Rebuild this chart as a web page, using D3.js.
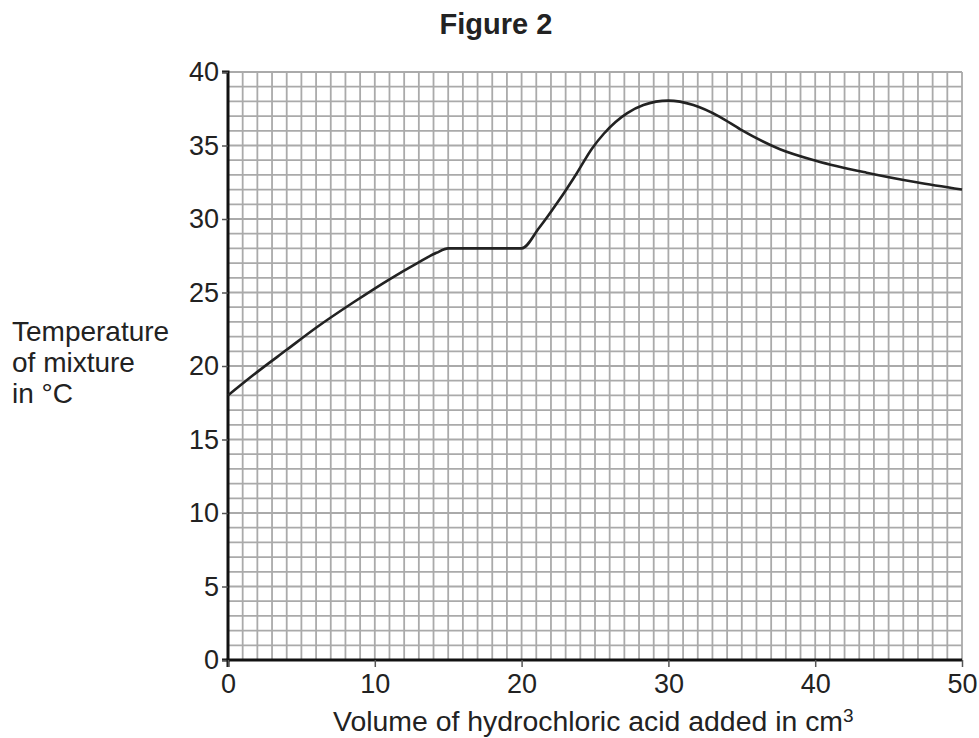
<!DOCTYPE html>
<html>
<head>
<meta charset="utf-8">
<script src="https://cdn.jsdelivr.net/npm/d3@7"></script>
<style>
  body { margin: 0; background: #fff; }
  text { font-family: "Liberation Sans", Arial, sans-serif; fill: #222; }
</style>
</head>
<body>
<svg class="chart" width="979" height="738"></svg>
<script>
// curve
const volume = [0, 2, 4, 6, 8.5, 11, 12.9, 14.2, 15, 20, 21.2, 22.5, 23.75, 24.8, 25.6, 26.4, 27.2, 28.3, 30, 31.7, 33.5, 34.9, 37.6, 40.1, 43.5, 46.9, 50];
const temperature = [18, 19.6, 21.1, 22.6, 24.3, 25.9, 27, 27.7, 28, 28, 29.4, 31.2, 33.1, 34.8, 35.8, 36.6, 37.2, 37.75, 38.05, 37.75, 36.95, 36.1, 34.75, 33.95, 33.15, 32.5, 32];
const xTicks = [0, 10, 20, 30, 40, 50];
const yTicks = [0, 5, 10, 15, 20, 25, 30, 35, 40];
const yLabel = ['Temperature', 'of mixture', 'in °C'];

var margins = { top: 72, right: 17, left: 228, bottom: 78 };

var svg = d3.select('.chart');
const width = svg.attr('width') - margins.left - margins.right;
const height = svg.attr('height') - margins.top - margins.bottom;

var g = svg.append('g')
    .attr('transform', 'translate(' + margins.left + ',' + margins.top + ')');

var x = d3.scaleLinear().domain([0, 50]).range([0, width]);
var y = d3.scaleLinear().domain([0, 40]).range([height, 0]);

// graph paper, one line per unit
g.append('g')
    .selectAll('line')
    .data(d3.range(1, 51))
    .enter().append('line')
    .attr('x1', d => x(d)).attr('x2', d => x(d))
    .attr('y1', 0).attr('y2', height)
    .attr('stroke', '#aaa').attr('stroke-width', 1.8);

g.append('g')
    .selectAll('line')
    .data(d3.range(1, 41))
    .enter().append('line')
    .attr('x1', 0).attr('x2', width)
    .attr('y1', d => y(d)).attr('y2', d => y(d))
    .attr('stroke', '#aaa').attr('stroke-width', 1.8);

//axes
var yAxis = g.append('g')
    .call(d3.axisLeft(y).tickValues(yTicks).tickSize(6).tickPadding(3));
var xAxis = g.append('g')
    .attr('transform', 'translate(0,' + height + ')')
    .call(d3.axisBottom(x).tickValues(xTicks).tickSize(7).tickPadding(7));

[xAxis, yAxis].forEach(a => {
    a.select('.domain').attr('stroke', '#111').attr('stroke-width', 3);
    a.selectAll('.tick line').attr('stroke', '#555').attr('stroke-width', 1.5);
    a.selectAll('.tick text')
        .attr('font-family', '"Liberation Sans", Arial, sans-serif')
        .attr('font-size', 27).attr('fill', '#222');
});
yAxis.select('.domain').attr('d', 'M-6,' + height + 'H0V0H-6');
xAxis.select('.domain').attr('d', 'M0,7V0H' + width + 'V0');

// the curve
var line = d3.line()
    .x((d, i) => x(d))
    .y((d, i) => y(temperature[i]))
    .curve(d3.curveMonotoneX);

g.append('path')
    .attr('d', line(volume))
    .attr('fill', 'none')
    .attr('stroke', '#222')
    .attr('stroke-width', 2.6);

// titles
svg.append('text')
    .attr('x', 496).attr('y', 34)
    .attr('text-anchor', 'middle')
    .attr('font-weight', 'bold')
    .attr('font-size', 29)
    .text('Figure 2');

var xt = svg.append('text')
    .attr('x', 333).attr('y', 731)
    .attr('font-size', 27);
xt.append('tspan').text('Volume of hydrochloric acid added in cm')
    .attr('textLength', 510).attr('lengthAdjust', 'spacingAndGlyphs');
xt.append('tspan').attr('dy', -9).attr('font-size', 19).text('3');

svg.append('g')
    .selectAll('text')
    .data(yLabel)
    .enter().append('text')
    .attr('x', 12)
    .attr('y', (d, i) => 341 + i * 31)
    .attr('font-size', 28)
    .text(d => d);
</script>
</body>
</html>
